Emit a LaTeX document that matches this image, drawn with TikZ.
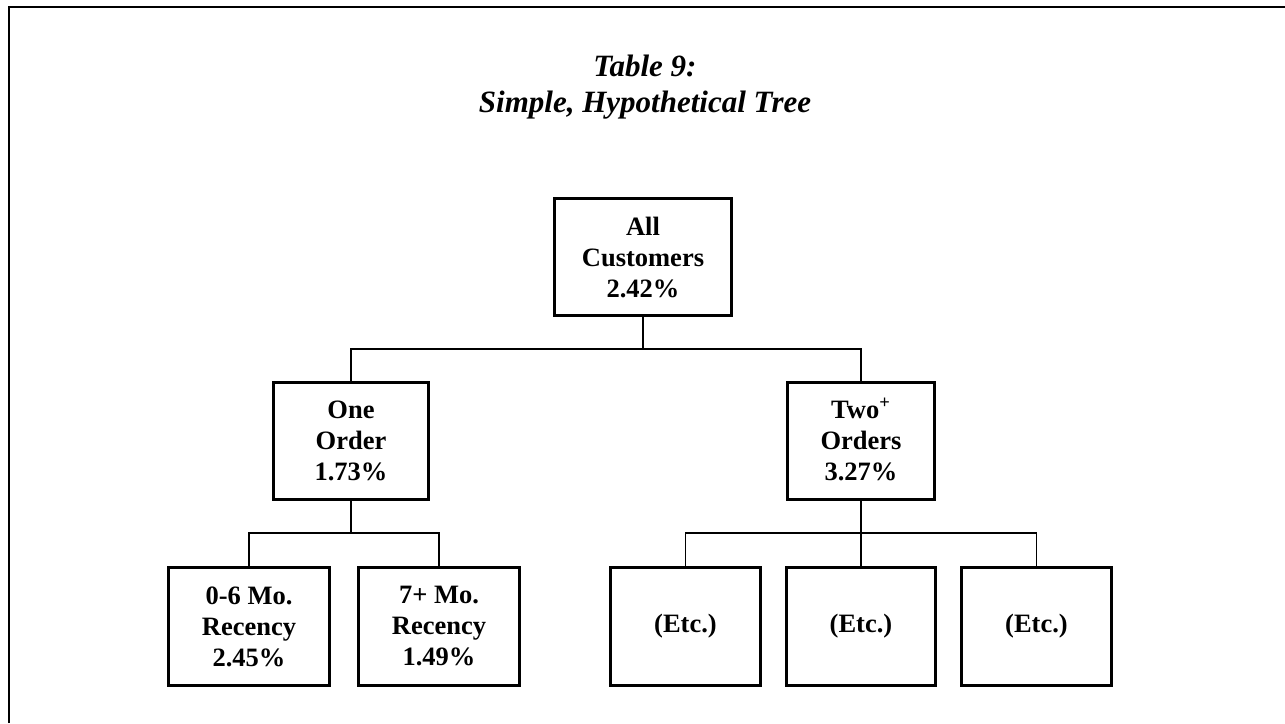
\documentclass[tikz,border=0pt]{standalone}
\usepackage{fontspec}
\setmainfont{Liberation Serif}
\begin{document}
\begin{tikzpicture}[x=0.5pt,y=-0.5pt,
  boxtext/.style={font=\bfseries\fontsize{13.25}{15.5}\selectfont, align=center},
  treebox/.style={draw, line width=1.65pt, inner sep=0pt, boxtext, minimum height=58.3pt},
  leafbox/.style={draw, line width=1.65pt, inner sep=0pt, boxtext, minimum height=58.8pt},
  conn/.style={line width=0.75pt},
  thickconn/.style={line width=1.25pt},
  titletext/.style={font=\bfseries\itshape\fontsize{15.5}{18}\selectfont, anchor=base, inner sep=0pt},
  frameline/.style={line width=1.1pt}]
\useasboundingbox (0,0) rectangle (1285,723);
\draw[frameline] (9,723) -- (9,7) -- (1285,7);
% title
\node[titletext] (t1) at (645,76) {Table 9:};
\node[titletext] (t2) at (645,112) {Simple, Hypothetical Tree};
% level 0
\node[treebox, minimum width=88.3pt] (root) at (643,257) {All\\Customers\\2.42\%};
% level 1
\node[treebox, minimum width=77.3pt] (one) at (351,441) {One\\Order\\1.73\%};
\node[treebox, minimum width=73.8pt] (two) at (861,441) {Two\smash{\textsuperscript{+}}\\Orders\\3.27\%};
% level 2
\node[leafbox, minimum width=80.3pt] (a) at (249,626.5) {0-6 Mo.\\Recency\\2.45\%};
\node[leafbox, minimum width=80.3pt] (b) at (439,626.5) {7+ Mo.\\Recency\\1.49\%};
\node[leafbox, minimum width=74.8pt] (e1) at (685.5,626.5) {(Etc.)};
\node[leafbox, minimum width=74.8pt] (e2) at (861,626.5) {(Etc.)};
\node[leafbox, minimum width=74.8pt] (e3) at (1036.5,626.5) {(Etc.)};
% junctions
\coordinate (j1) at (643,349);
\coordinate (j2) at (351,533);
\coordinate (j3) at (861,533);
% connectors
\draw[conn] (root.south) -- (j1);
\draw[conn] (one.north) |- (j1) -| (two.north);
\draw[conn] (one.south) -- (j2);
\draw[conn] (a.north) |- (j2) -| (b.north);
\draw[thickconn] (two.south) -- (j3);
\draw[conn] (e1.north) |- (j3) -| (e3.north);
\draw[conn] (j3) -- (e2.north);
\end{tikzpicture}
\end{document}
